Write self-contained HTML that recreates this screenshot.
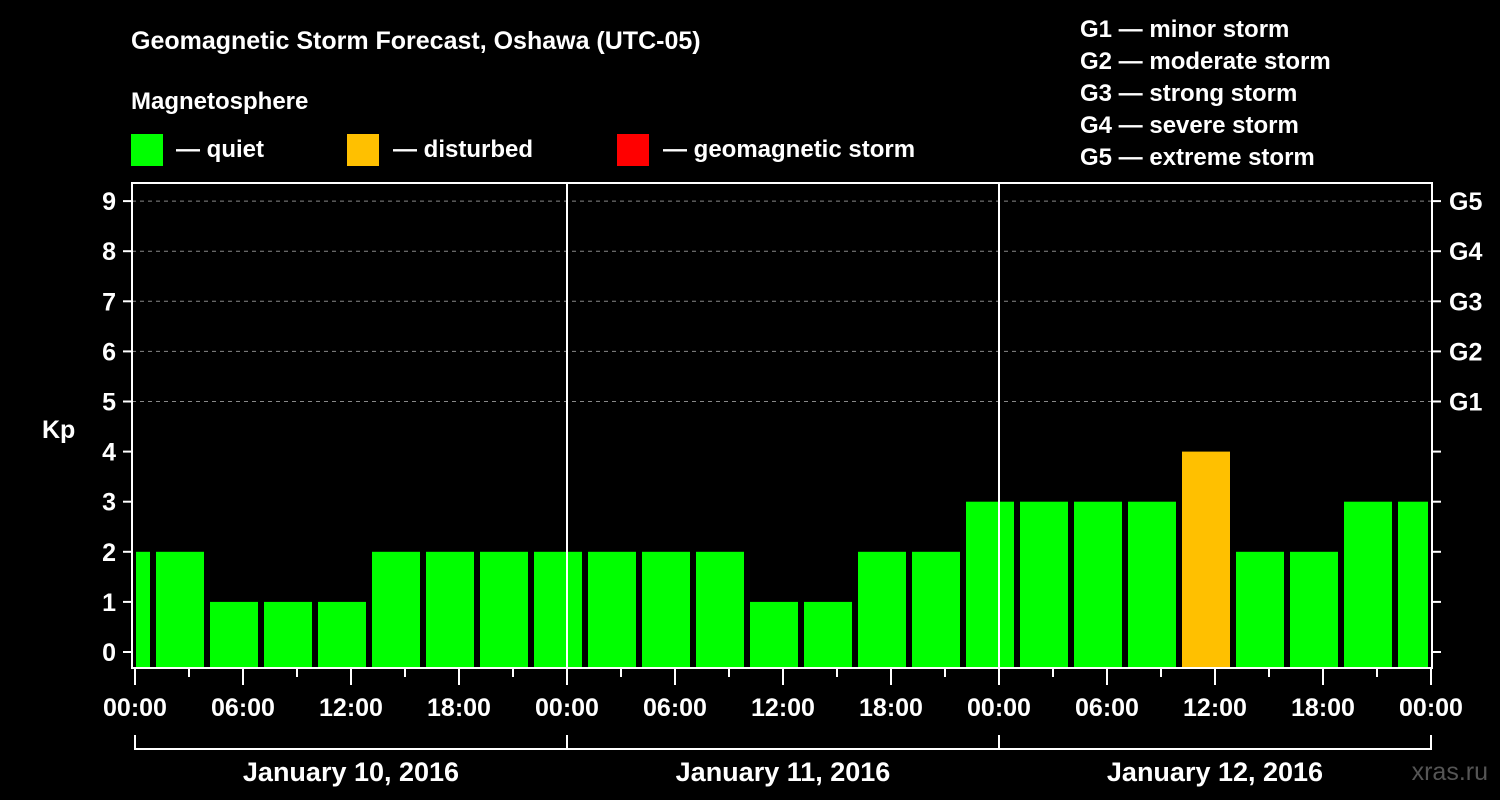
<!DOCTYPE html>
<html><head><meta charset="utf-8"><style>
body{margin:0;background:#000;}
svg{display:block;font-family:"Liberation Sans",Arial,sans-serif;font-weight:bold;}
</style></head><body>
<svg id="c" width="1500" height="800" viewBox="0 0 1500 800">
<rect width="1500" height="800" fill="#000"/>
<text x="131" y="49" fill="#fff" font-size="25">Geomagnetic Storm Forecast, Oshawa (UTC-05)</text>
<text x="131" y="109" fill="#fff" font-size="24">Magnetosphere</text>
<rect x="131" y="134" width="32" height="32" fill="#00ff00"/>
<text x="176" y="157" fill="#fff" font-size="24">— quiet</text>
<rect x="347" y="134" width="32" height="32" fill="#ffc000"/>
<text x="393" y="157" fill="#fff" font-size="24">— disturbed</text>
<rect x="617" y="134" width="32" height="32" fill="#ff0000"/>
<text x="663" y="157" fill="#fff" font-size="24">— geomagnetic storm</text>
<g fill="#fff" font-size="24">
<text x="1080" y="37">G1 — minor storm</text>
<text x="1080" y="69">G2 — moderate storm</text>
<text x="1080" y="101">G3 — strong storm</text>
<text x="1080" y="133">G4 — severe storm</text>
<text x="1080" y="165">G5 — extreme storm</text>
</g>
<text x="42" y="438" fill="#fff" font-size="25">Kp</text>
<text x="1488" y="780" fill="#555" font-size="25" text-anchor="end" font-weight="normal">xras.ru</text>
<g id="grid"></g><g id="bars"></g><g id="axes"></g>
</svg>
<script>
const kpValues=[2,2,1,1,1,2,2,2,2,2,2,2,1,1,2,2,3,3,3,3,4,2,2,3,3];
const dayLabels=["January 10, 2016","January 11, 2016","January 12, 2016"];
const timeTicks=["00:00","06:00","12:00","18:00"];
const gLabels=["G1","G2","G3","G4","G5"];
const NS="http://www.w3.org/2000/svg";
const L=132,R=1432,T=183,B=668;
const x=h=>135+18*h, y=k=>652-50.1*k;
function mk(p,t,a){const e=document.createElementNS(NS,t);for(const k in a)e.setAttribute(k,a[k]);p.appendChild(e);return e;}
const grid=document.getElementById('grid'),bars=document.getElementById('bars'),axes=document.getElementById('axes');
for(let k=5;k<=9;k++){const g=mk(grid,'line',{x1:L,x2:R,y1:y(k),y2:y(k),stroke:'#888','stroke-dasharray':'4,4','stroke-width':1});

}
kpValues.forEach((v,i)=>{let s=-2+3*i,e=s+3;let x1=Math.max(x(s)+3,x(0)+1),x2=Math.min(x(e)-3,x(72)-3);
const r=mk(bars,'rect',{x:x1,y:y(v),width:x2-x1,height:B-y(v),fill:v>=5?'#ff0000':(v>=4?'#ffc000':'#00ff00')});

});
[1,2].forEach(d=>{mk(axes,'line',{x1:x(24*d),x2:x(24*d),y1:T,y2:B,stroke:'#fff','stroke-width':2});});
const fr=mk(axes,'rect',{x:L,y:T,width:R-L,height:B-T,fill:'none',stroke:'#fff','stroke-width':2});


for(let k=0;k<=9;k++){mk(axes,'line',{x1:L-9,x2:L,y1:y(k),y2:y(k),stroke:'#fff','stroke-width':2});
mk(axes,'line',{x1:R,x2:R+9,y1:y(k),y2:y(k),stroke:'#fff','stroke-width':2});
const t=mk(axes,'text',{x:116,y:y(k)+9,fill:'#fff','font-size':25,'text-anchor':'end'});t.textContent=k;

}
gLabels.forEach((g,i)=>{const t=mk(axes,'text',{x:1449,y:y(i+5)+9,fill:'#fff','font-size':25});t.textContent=g;

});
for(let h=0;h<=72;h+=3){const major=h%6===0;mk(axes,'line',{x1:x(h),x2:x(h),y1:B,y2:major?685:677,stroke:'#fff','stroke-width':2});
if(major){const t=mk(axes,'text',{x:x(h),y:716,fill:'#fff','font-size':25,'text-anchor':'middle'});t.textContent=timeTicks[(h/6)%4];

}}
mk(axes,'line',{x1:x(0),x2:x(72),y1:749,y2:749,stroke:'#fff','stroke-width':2});
for(let d=0;d<=3;d++)mk(axes,'line',{x1:x(24*d),x2:x(24*d),y1:735,y2:750,stroke:'#fff','stroke-width':2});
dayLabels.forEach((s,d)=>{const t=mk(axes,'text',{x:x(24*d+12),y:781,fill:'#fff','font-size':27,'text-anchor':'middle'});t.textContent=s;

});
</script>
</body></html>
